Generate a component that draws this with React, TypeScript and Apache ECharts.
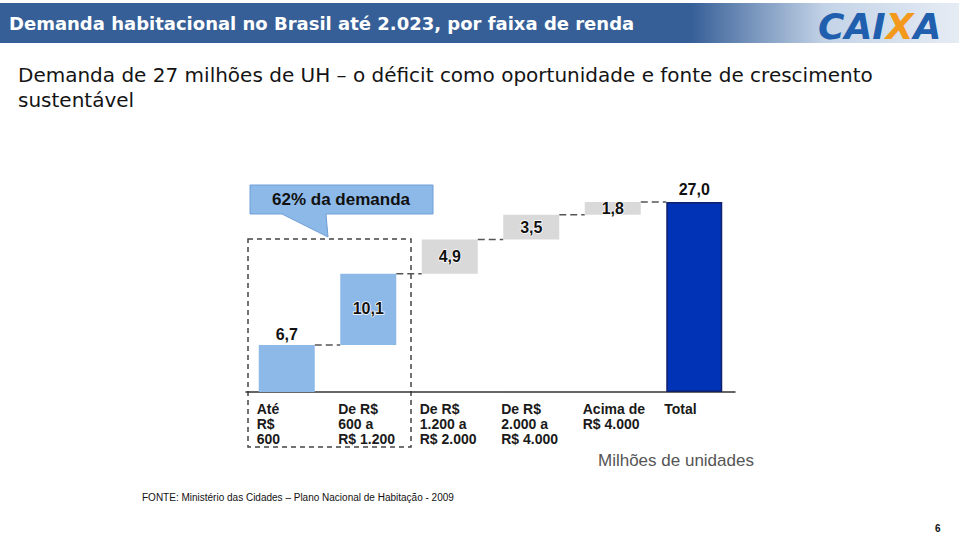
import React, { useEffect, useRef } from "react";
import * as echarts from "echarts";

const categories = [
  "Até\nR$\n600",
  "De R$\n600 a\nR$ 1.200",
  "De R$\n1.200 a\nR$ 2.000",
  "De R$\n2.000 a\nR$ 4.000",
  "Acima de\nR$ 4.000",
  "Total",
];
const values = [6.7, 10.1, 4.9, 3.5, 1.8, 27.0];
const barColors = ["#8DB9E8", "#8DB9E8", "#D9D9D9", "#D9D9D9", "#D9D9D9", "#0033B5"];
const labelPositions = ["top", "insideTop", "inside", "inside", "inside", "top"];

const titleText = "Demanda habitacional no Brasil até 2.023, por faixa de renda";
const subtitleLine1 = "Demanda de 27 milhões de UH – o déficit como oportunidade e fonte de crescimento";
const subtitleLine2 = "sustentável";
const calloutText = "62% da demanda";
const unitText = "Milhões de unidades";
const sourceText = "FONTE: Ministério das Cidades – Plano Nacional de Habitação - 2009";
const pageNumber = "6";

const fmt = (v: number) => v.toFixed(1).replace(".", ",");

export default function App() {
  const ref = useRef<HTMLDivElement>(null);
  useEffect(() => {
    if (!ref.current) return;
    const chart = echarts.init(ref.current, undefined, { renderer: "svg" });
    const last = values.length - 1;
    const bases: number[] = [];
    let acc = 0;
    values.forEach((v, i) => {
      if (i === last) bases.push(0);
      else {
        bases.push(acc);
        acc += v;
      }
    });
    const levels = values.map((v, i) => bases[i] + v);
    const BAR_W = 56;

    chart.setOption({
      animation: false,
      backgroundColor: "#ffffff",
      grid: { left: 246, right: 224, top: 181, bottom: 142 },
      xAxis: {
        type: "category",
        data: categories,
        axisLine: { show: true, lineStyle: { color: "#333333", width: 1.5 } },
        axisTick: { show: false },
        axisLabel: {
          interval: 0,
          margin: 9,
          align: "center",
          formatter: (v: string) => v.split("\n").map((s) => `{l|${s}}`).join("\n"),
          rich: {
            l: {
              width: 60,
              align: "left",
              fontSize: 14,
              fontWeight: "bold",
              lineHeight: 15,
              fontFamily: "Liberation Sans, Arial, sans-serif",
              color: "#1a1a1a",
            },
          },
        },
      },
      yAxis: { type: "value", min: 0, max: 30, show: false },
      series: [
        {
          type: "custom",
          z: 1,
          renderItem: (params: any, api: any) => {
            const i = api.value(0);
            const lvl = api.value(1);
            const p1 = api.coord([i, lvl]);
            const p2 = api.coord([i + 1, lvl]);
            return {
              type: "line",
              shape: { x1: p1[0] + BAR_W / 2, y1: p1[1], x2: p2[0] - BAR_W / 2, y2: p2[1] },
              style: { stroke: "#555555", lineWidth: 1.5, lineDash: [7, 4] },
            };
          },
          data: levels.slice(0, last).map((l, i) => [i, l]),
        },
        {
          type: "bar",
          stack: "w",
          z: 2,
          barWidth: BAR_W,
          itemStyle: { color: "transparent" },
          emphasis: { disabled: true },
          data: bases,
        },
        {
          type: "bar",
          stack: "w",
          z: 2,
          barWidth: BAR_W,
          data: values.map((v, i) => ({
            value: v,
            itemStyle: {
              color: barColors[i],
              borderColor: i === last ? "#10206a" : "transparent",
              borderWidth: i === last ? 1.5 : 0,
            },
            label: {
              show: true,
              position: labelPositions[i],
              distance: i === 1 ? 27 : i === 0 ? 2 : 5,
              formatter: fmt(v),
              fontSize: 16,
              fontWeight: "bold",
              fontFamily: "Liberation Sans, Arial, sans-serif",
              color: "#111111",
              textBorderColor: "#ffffff",
              textBorderWidth: i === last ? 0 : 1.5,
            },
          })),
        },
      ],
      graphic: [
        {
          type: "rect",
          shape: { x: 0, y: 3, width: 959, height: 40 },
          style: {
            fill: new echarts.graphic.LinearGradient(0, 0, 1, 0, [
              { offset: 0, color: "#365f97" },
              { offset: 0.72, color: "#365f97" },
              { offset: 0.86, color: "#c3d3e7" },
              { offset: 1, color: "#e6ecf4" },
            ]),
          },
        },
        {
          type: "text",
          x: 9,
          y: 23,
          style: {
            text: titleText,
            fill: "#ffffff",
            font: "bold 18px 'DejaVu Sans', Verdana, sans-serif",
            textVerticalAlign: "middle",
          },
        },
        {
          type: "text",
          x: 818,
          y: 26,
          style: {
            rich: {
              b: { fill: "#1f5fae", fontSize: 36, fontWeight: "bold", fontStyle: "italic", fontFamily: "DejaVu Sans" },
              o: { fill: "#f39a1c", fontSize: 36, fontWeight: "bold", fontStyle: "italic", fontFamily: "DejaVu Sans" },
            },
            text: "{b|CAI}{o|X}{b|A}",
            textVerticalAlign: "middle",
          },
        },
        {
          type: "text",
          x: 18,
          y: 75,
          style: {
            text: subtitleLine1,
            fill: "#141414",
            font: "20px 'DejaVu Sans', Verdana, sans-serif",
            textVerticalAlign: "middle",
          },
        },
        {
          type: "text",
          x: 18,
          y: 100,
          style: {
            text: subtitleLine2,
            fill: "#141414",
            font: "20px 'DejaVu Sans', Verdana, sans-serif",
            textVerticalAlign: "middle",
          },
        },
        {
          type: "rect",
          shape: { x: 248, y: 239, width: 163, height: 208 },
          style: { fill: "none", stroke: "#444444", lineWidth: 1.5, lineDash: [5, 4] },
        },
        {
          type: "polygon",
          shape: {
            points: [
              [250, 185],
              [433, 185],
              [433, 214],
              [326, 214],
              [328, 237],
              [282, 214],
              [250, 214],
            ],
          },
          style: { fill: "#8DB9E8", stroke: "#6f9fd6", lineWidth: 1 },
        },
        {
          type: "text",
          x: 341,
          y: 199,
          style: {
            text: calloutText,
            fill: "#111111",
            font: "bold 17px 'Liberation Sans', Arial, sans-serif",
            textAlign: "center",
            textVerticalAlign: "middle",
          },
        },
        {
          type: "text",
          x: 598,
          y: 460,
          style: {
            text: unitText,
            fill: "#555555",
            font: "17px 'Liberation Sans', Arial, sans-serif",
            textVerticalAlign: "middle",
          },
        },
        {
          type: "text",
          x: 142,
          y: 497,
          style: {
            text: sourceText,
            fill: "#111111",
            font: "10px 'Liberation Sans', Arial, sans-serif",
            textVerticalAlign: "middle",
          },
        },
        {
          type: "text",
          x: 935,
          y: 528,
          style: {
            text: pageNumber,
            fill: "#111111",
            font: "bold 10px 'Liberation Sans', Arial, sans-serif",
            textVerticalAlign: "middle",
          },
        },
      ],
    });
    return () => chart.dispose();
  }, []);
  return (
    <div
      ref={ref}
      style={{ position: "absolute", left: 0, top: 0, width: 959, height: 534, background: "#fff" }}
    />
  );
}
